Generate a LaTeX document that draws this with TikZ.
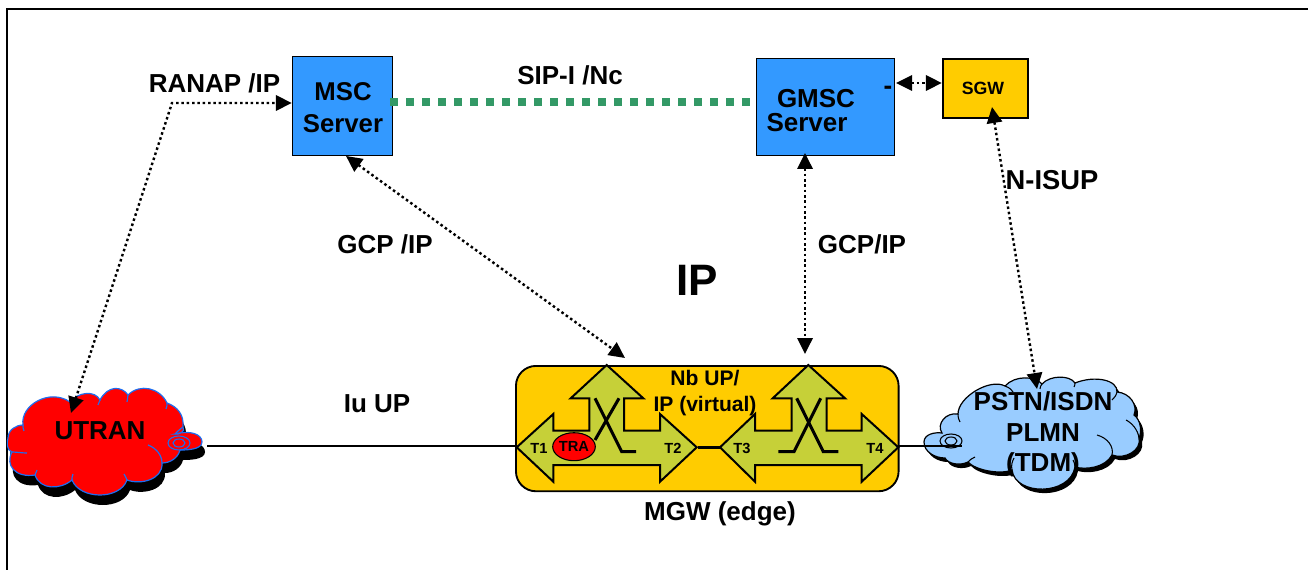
\documentclass[tikz,border=0pt]{standalone}
\usepackage{fontspec}
\setmainfont{Liberation Sans}
\usetikzlibrary{arrows.meta,shapes.geometric}
\definecolor{boxblue}{RGB}{51,153,255}
\definecolor{amber}{RGB}{255,204,0}
\definecolor{olive}{RGB}{198,208,56}
\definecolor{sky}{RGB}{153,204,255}
\definecolor{dashgreen}{RGB}{51,153,102}
\definecolor{edgeblue}{RGB}{30,110,240}
\newcommand{\utranpath}{(8,438) .. controls (8,430) and (16,425) .. (23,425)
 .. controls (20,405) and (50,388) .. (70,402)
 .. controls (78,392) and (95,390) .. (100,400)
 .. controls (108,385) and (122,386) .. (128,395)
 .. controls (140,383) and (160,388) .. (167,403)
 .. controls (178,407) and (184,415) .. (183,427)
 .. controls (186,432) and (178,435) .. (175,434)
 .. controls (190,430) and (202,434) .. (202,442)
 .. controls (202,450) and (185,450) .. (180,450)
 .. controls (178,458) and (170,463) .. (162,463)
 .. controls (163,480) and (140,485) .. (127,480)
 .. controls (120,500) and (80,500) .. (72,480)
 .. controls (60,490) and (40,490) .. (35,475)
 .. controls (15,478) and (5,465) .. (12,452)
 .. controls (6,450) and (7,442) .. (8,438) -- cycle}
\newcommand{\pstnpath}{(924,442) .. controls (924,434) and (935,432) .. (942,433)
 .. controls (936,424) and (946,412) .. (958,414)
 .. controls (958,397) and (990,378) .. (1005,386)
 .. controls (1015,375) and (1035,376) .. (1042,384)
 .. controls (1050,375) and (1070,375) .. (1075,383)
 .. controls (1095,375) and (1118,380) .. (1117,392)
 .. controls (1130,393) and (1138,405) .. (1134,415)
 .. controls (1141,420) and (1142,432) .. (1139,438)
 .. controls (1142,450) and (1125,460) .. (1112,455)
 .. controls (1105,468) and (1085,470) .. (1075,467)
 .. controls (1070,496) and (1015,496) .. (1012,470)
 .. controls (1000,475) and (975,470) .. (968,462)
 .. controls (960,466) and (948,464) .. (945,458)
 .. controls (935,458) and (924,452) .. (924,442) -- cycle}
\tikzset{
 x=0.75pt,y=-0.75pt,
 lbl/.style={font=\bfseries\fontsize{19.5}{22}\selectfont,inner sep=0pt,align=center},
 srvbox/.style={draw=black,line width=0.9pt,fill=boxblue,inner sep=0pt,anchor=north west},
 dotlink/.style={line width=1.8pt,dash pattern=on 1.9pt off 2.1pt,{Triangle[length=12pt,width=11.5pt]}-{Triangle[length=12pt,width=11.5pt]}},
 solidlink/.style={line width=2.2pt},
 trunk/.style={draw=black,line width=1.5pt,fill=olive,line join=miter},
 xline/.style={line width=2.3pt,line join=miter},
 tlabel/.style={font=\bfseries\fontsize{11}{12}\selectfont,inner sep=0pt}
}
\begin{document}
\begin{tikzpicture}
\useasboundingbox (0,0) rectangle (1308,570);
\fill[white] (0,0) rectangle (1308,570);
\draw[line width=1.5pt] (7,570) -- (7,9) -- (1308,9);
% boxes
\node[srvbox,minimum width=75pt,minimum height=74.7pt] (msc) at (291.8,55.7) {};
\node[srvbox,minimum width=103.7pt,minimum height=72.7pt] (gmsc) at (756,58.3) {};
\node[srvbox,draw=black,line width=1.7pt,fill=amber,minimum width=63.7pt,minimum height=44pt] (sgw) at (941.8,58) {};
\node[lbl,font=\bfseries\fontsize{19.3}{23.5}\selectfont] (msctext) at (343,107.5) {MSC\\Server};
\node[lbl] (gmsct1) at (816,99) {GMSC};
\node[lbl] (gmsct2) at (807,123) {Server};
\node[lbl] (dash) at (888,90) {-};
\node[lbl,font=\bfseries\fontsize{13.3}{15}\selectfont] (sgwt) at (983,88) {SGW};
% clouds
\fill[black,shift={(3,10)}] \utranpath;
\draw[edgeblue,line width=0.9pt,fill=red] \utranpath;
\draw[edgeblue,line width=0.9pt] (148,445) .. controls (156,448) and (162,455) .. (162,463)
 (127,480) .. controls (126,477) and (125,476) .. (124,474)
 (72,480) .. controls (72,478) and (72,476) .. (73,474)
 (35,475) .. controls (36,473) and (36,472) .. (37,470)
 (12,452) .. controls (16,452) and (22,453) .. (27,453)
 (175,434) .. controls (178,431) and (180,429) .. (183,427)
 (70,402) .. controls (72,404) and (74,406) .. (76,408)
 (100,400) .. controls (99,402) and (99,403) .. (98,405)
 (128,395) .. controls (127,398) and (127,399) .. (127,402)
 (167,403) .. controls (167,405) and (167,407) .. (166,409)
 (23,425) .. controls (23,427) and (23,429) .. (24,431);
\draw[edgeblue,line width=0.8pt] (179,443) ellipse [x radius=11,y radius=7];
\draw[edgeblue,line width=0.8pt] (179,443) ellipse [x radius=6,y radius=4];
\fill[black,shift={(3,4)}] \pstnpath;
\draw[black,line width=0.9pt,fill=sky] \pstnpath;
\draw[black,line width=0.8pt] (1097,435) .. controls (1108,438) and (1114,447) .. (1112,455)
 (1075,467) .. controls (1075,464) and (1074,462) .. (1073,460)
 (1012,470) .. controls (1011,465) and (1012,462) .. (1014,458)
 (968,462) .. controls (970,460) and (972,458) .. (975,457)
 (1139,438) .. controls (1138,430) and (1132,423) .. (1126,420)
 (1117,392) .. controls (1116,396) and (1114,398) .. (1112,400)
 (1005,386) .. controls (1010,388) and (1012,390) .. (1013,392)
 (1042,384) .. controls (1041,385) and (1040,387) .. (1040,389)
 (1075,383) .. controls (1075,384) and (1075,385) .. (1074,387)
 (958,414) .. controls (958,418) and (959,420) .. (960,422);
\draw[black,line width=0.8pt] (951,441) ellipse [x radius=11,y radius=7];
\draw[black,line width=0.8pt] (951,441) ellipse [x radius=6,y radius=4];
\node[lbl] (utrant) at (100,431) {UTRAN};
\node[lbl,font=\bfseries\fontsize{19.5}{23}\selectfont] (pstnt) at (1043,434.5) {PSTN/ISDN\\PLMN\\(TDM)};
% MGW
\node[draw=black,line width=1.4pt,fill=amber,rounded corners=15pt,inner sep=0pt,anchor=north west,minimum width=287pt,minimum height=94pt] (mgw) at (515,365) {};
\draw[trunk] (516.7,447.3) coordinate (t1) -- (553.3,414) -- (553.3,430.7) -- (589.3,430.7) -- (589.3,398.3) -- (570.7,398.3) -- (606.7,365) coordinate (apexa) -- (643.3,398.3) -- (624,398.3) -- (624,430.7) -- (660,430.7) -- (660,414) -- (696.7,447.3) coordinate (t2) -- (660,481.7) -- (660,465) -- (553.3,465) -- (553.3,481.7) -- cycle;
\draw[trunk] (720,447.3) coordinate (t3) -- (755,414) -- (755,430.7) -- (791.7,430.7) -- (791.7,398.3) -- (772.7,398.3) -- (808.3,365) coordinate (apexb) -- (845,398.3) -- (826.7,398.3) -- (826.7,430.7) -- (861.7,430.7) -- (861.7,414) -- (898.3,447.3) coordinate (t4) -- (861.7,481.7) -- (861.7,465) -- (755,465) -- (755,481.7) -- cycle;
\draw[xline] (595,398.3) -- (621.7,451.7) -- (636,451.7);
\draw[xline] (619,398.3) -- (595,440);
\draw[xline] (796.7,398.3) -- (823.3,451.7) -- (838.3,451.7);
\draw[xline] (820.7,398.3) -- (794,451.7) -- (778.3,451.7);
\node[draw=black,line width=0.8pt,fill=red,ellipse,minimum width=31.5pt,minimum height=21pt,inner sep=0pt,font=\bfseries\fontsize{11}{12}\selectfont] (tra) at (574,446.7) {\raisebox{-1pt}{TRA}};
\node[tlabel] (t1l) at (539,448) {T1};
\node[tlabel] (t2l) at (673,448) {T2};
\node[tlabel] (t3l) at (742,448) {T3};
\node[tlabel] (t4l) at (875,448) {T4};
\node[lbl,font=\bfseries\fontsize{15.8}{19.5}\selectfont] (nb) at (705,393.5) {Nb UP/\\IP (virtual)};
% connectors
\coordinate (utranend) at (207,446);
\coordinate (pstnend) at (962,446);
\draw[solidlink] (utranend) -- (utranend -| t1);
\draw[solidlink] (t4 |- pstnend) -- (pstnend);
\draw[solidlink] (698,447.3) -- (t3);
\draw[dashgreen,line width=6pt,dash pattern=on 6pt off 6pt] (390,102) -- (750,102);
\coordinate (bend) at (172,103);
\coordinate (utrantop) at (71,413);
\draw[dotlink] (utrantop) -- (bend) -- (msc.west |- bend);
\coordinate (mscbot) at (346,156);
\coordinate (mgwa) at (625,358);
\coordinate (gmscbot) at (805,153);
\coordinate (mgwb) at (805,354);
\coordinate (gmscr) at (896,83);
\coordinate (sgwb) at (992,107);
\coordinate (pstntop) at (1037,389);
\draw[dotlink] (mscbot) -- (mgwa);
\draw[dotlink] (gmscbot) -- (mgwb);
\draw[dotlink] (gmscr) -- (sgw.west |- gmscr);
\draw[dotlink] (sgwb) -- (pstntop);
% labels
\node[lbl] (ranap) at (214.5,83) {RANAP /IP};
\node[lbl] (sipi) at (570,75) {SIP-I /Nc};
\node[lbl] (gcpa) at (385,244) {GCP /IP};
\node[lbl] (gcpb) at (862,244) {GCP/IP};
\node[lbl,font=\bfseries\fontsize{20.5}{22}\selectfont] (nisup) at (1052,180) {N-ISUP};
\node[lbl,font=\bfseries\fontsize{33}{35}\selectfont] (ip) at (697,280) {IP};
\node[lbl] (iuup) at (377,404) {Iu UP};
\node[lbl] (mgwl) at (720,514) {MGW (edge)};
\end{tikzpicture}
\end{document}
